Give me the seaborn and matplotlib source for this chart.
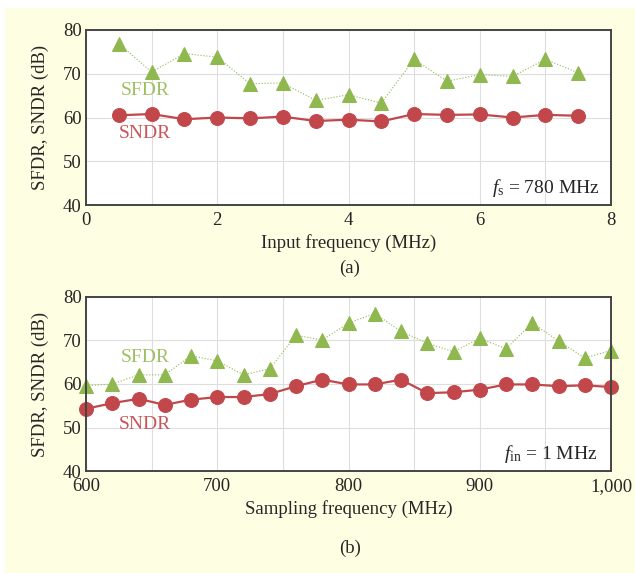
import matplotlib
matplotlib.use("Agg")
import matplotlib.pyplot as plt
import numpy as np
import pandas as pd
import seaborn as sns
from matplotlib.patches import Rectangle
from matplotlib.ticker import FixedLocator

# (a) sweep of input frequency, fs = 780 MHz
fin_mhz = [0.5, 1, 1.5, 2, 2.5, 3, 3.5, 4, 4.5, 5, 5.5, 6, 6.5, 7, 7.5]
sfdr_a = [76.9, 70.4, 74.6, 73.8, 67.7, 67.9, 63.9, 65.2, 63.3, 73.3, 68.3, 69.8, 69.4, 73.3, 70.2]
sndr_a = [60.5, 60.8, 59.6, 60.0, 59.8, 60.2, 59.2, 59.5, 59.1, 60.8, 60.6, 60.7, 60.0, 60.6, 60.4]

# (b) sweep of sampling frequency, fin = 1 MHz
fs_mhz = [600, 620, 640, 660, 680, 700, 720, 740, 760, 780, 800,
          820, 840, 860, 880, 900, 920, 940, 960, 980, 1000]
sfdr_b = [59.6, 60.0, 62.1, 62.1, 66.5, 65.3, 62.1, 63.5, 71.2, 70.1, 74.0,
          76.2, 72.1, 69.4, 67.4, 70.5, 68.1, 74.0, 69.9, 66.0, 67.7]
sndr_b = [54.3, 55.6, 56.6, 55.2, 56.4, 57.0, 57.0, 57.7, 59.5, 61.0, 59.9,
          59.9, 61.0, 57.9, 58.1, 58.7, 59.9, 59.9, 59.5, 59.7, 59.3]

sns.set_style("white")
plt.rcParams["font.family"] = ["Liberation Serif", "DejaVu Serif"]
plt.rcParams["mathtext.fontset"] = "custom"
plt.rcParams["mathtext.rm"] = "Liberation Serif"
plt.rcParams["mathtext.it"] = "Liberation Serif:italic"

GREEN = "#8fb84f"
GREEN_TXT = "#9dc060"
RED = "#c2474b"
RED_TXT = "#c9555a"
BG = "#fefee3"
FS = 13.5

fig = plt.figure(figsize=(6.35, 5.73), dpi=100)
fig.patch.set_facecolor("white")
fig.patches.append(Rectangle((5 / 635, 0), 1, 1 - 8 / 573, transform=fig.transFigure,
                             facecolor=BG, edgecolor="none", zorder=-10))

ax1 = fig.add_axes([86 / 635, 1 - 205 / 573, 525 / 635, 175 / 573])
ax2 = fig.add_axes([86 / 635, 1 - 471 / 573, 525 / 635, 174 / 573])


def draw_panel(ax, x, sfdr, sndr):
    df = pd.DataFrame({"x": x, "sfdr": sfdr, "sndr": sndr})
    sns.lineplot(data=df, x="x", y="sfdr", ax=ax, color=GREEN, lw=0.8, ls=":",
                 marker="^", markersize=10, markeredgecolor=GREEN, zorder=3, clip_on=False)
    sns.lineplot(data=df, x="x", y="sndr", ax=ax, color=RED, lw=1.6,
                 marker="o", markersize=10, markeredgecolor=RED, zorder=4, clip_on=False)
    ax.set_facecolor("white")
    ax.set_ylim(40, 80)
    ax.set_yticks([40, 50, 60, 70, 80])
    ax.grid(True, which="both", color="#dedede", lw=0.8)
    ax.tick_params(length=0, labelsize=FS)
    ax.tick_params(axis="x", pad=5)
    ax.tick_params(axis="y", pad=3)
    for s in ax.spines.values():
        s.set_color("#444444")
        s.set_linewidth(1.4)
        s.set_zorder(5)
    ax.set_ylabel("SFDR, SNDR (dB)", fontsize=FS, labelpad=10)


draw_panel(ax1, fin_mhz, sfdr_a, sndr_a)
ax1.set_xlim(0, 8)
ax1.set_xticks([0, 2, 4, 6, 8])
ax1.xaxis.set_minor_locator(FixedLocator([1, 3, 5, 7]))
ax1.set_xlabel("Input frequency (MHz)", fontsize=FS, labelpad=4)
ax1.text(0.9, 66.2, "SFDR", color=GREEN_TXT, fontsize=14, ha="center", va="center")
ax1.text(0.9, 56.4, "SNDR", color=RED_TXT, fontsize=14, ha="center", va="center")
ax1.text(7.82, 43.9, r"$f_\mathrm{s}$ = 780 MHz", fontsize=14, ha="right", va="center")
fig.text(350 / 635, 1 - 268 / 573, "(a)", fontsize=FS, ha="center", va="center")

draw_panel(ax2, fs_mhz, sfdr_b, sndr_b)
ax2.set_xlim(600, 1000)
ax2.set_xticks([600, 700, 800, 900, 1000])
ax2.set_xticklabels(["600", "700", "800", "900", "1,000"])
ax2.xaxis.set_minor_locator(FixedLocator([650, 750, 850, 950]))
ax2.set_xlabel("Sampling frequency (MHz)", fontsize=FS, labelpad=4)
ax2.text(645, 66.0, "SFDR", color=GREEN_TXT, fontsize=14, ha="center", va="center")
ax2.text(645, 50.6, "SNDR", color=RED_TXT, fontsize=14, ha="center", va="center")
ax2.text(990, 43.9, r"$f_\mathrm{in}$ = 1 MHz", fontsize=14, ha="right", va="center")
fig.text(350 / 635, 1 - 548 / 573, "(b)", fontsize=FS, ha="center", va="center")

fig.savefig("out.png", dpi=100, facecolor=fig.get_facecolor())
